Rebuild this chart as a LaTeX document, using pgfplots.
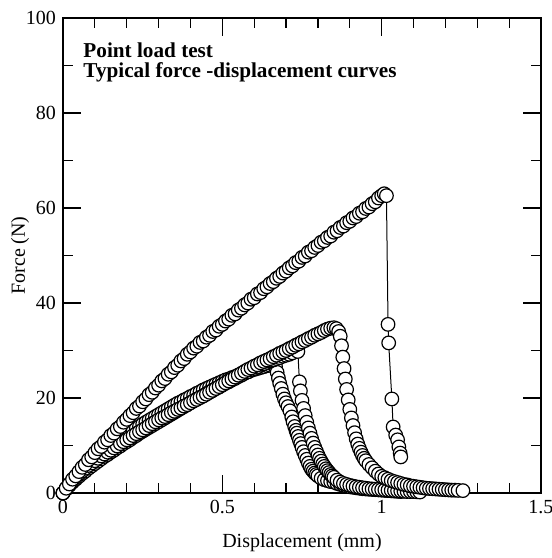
\documentclass[border=0pt]{standalone}
\usepackage{fontspec}
\setmainfont{Liberation Serif}
\usepackage{pgfplots}
\pgfplotsset{compat=1.18}

% specimen 1 (highest peak)
\pgfplotstableread{
x y
0.000 0.0
0.010 1.0
0.020 1.9
0.030 2.9
0.040 3.6
0.050 4.5
0.060 5.4
0.070 6.0
0.080 7.0
0.090 7.6
0.100 8.5
0.110 9.3
0.120 9.8
0.130 10.7
0.140 11.2
0.150 12.1
0.160 12.6
0.170 13.5
0.180 14.0
0.190 14.9
0.200 15.5
0.210 16.3
0.220 16.9
0.230 17.8
0.240 18.3
0.250 19.2
0.260 19.8
0.270 20.7
0.280 21.2
0.290 22.1
0.300 22.7
0.310 23.6
0.320 24.1
0.330 25.0
0.340 25.5
0.350 26.4
0.360 26.9
0.370 27.8
0.380 28.3
0.390 29.2
0.400 29.7
0.410 30.5
0.420 30.9
0.430 31.7
0.440 32.0
0.450 32.8
0.460 33.2
0.470 34.0
0.480 34.3
0.490 35.1
0.500 35.5
0.510 36.2
0.520 36.6
0.530 37.4
0.540 37.7
0.550 38.5
0.560 38.9
0.570 39.6
0.580 40.0
0.590 40.8
0.600 41.1
0.610 41.9
0.620 42.2
0.630 43.0
0.640 43.4
0.650 44.1
0.660 44.5
0.670 45.2
0.680 45.6
0.690 46.3
0.700 46.7
0.710 47.4
0.720 47.8
0.730 48.5
0.740 48.8
0.750 49.6
0.760 49.9
0.770 50.7
0.780 51.0
0.790 51.7
0.800 52.1
0.810 52.8
0.820 53.1
0.830 53.8
0.840 54.1
0.850 54.9
0.860 55.2
0.870 55.9
0.880 56.2
0.890 56.9
0.900 57.2
0.910 57.9
0.920 58.2
0.930 58.9
0.940 59.2
0.950 59.9
0.960 60.2
0.970 60.9
0.980 61.3
0.990 62.1
1.000 62.6
1.008 63.0
1.015 62.6
1.020 35.5
1.022 31.6
1.032 19.8
1.036 13.9
1.044 12.2
1.050 11.2
1.054 9.7
1.058 8.4
1.060 7.6
}\specA

% specimen 2
\pgfplotstableread{
x y
0.000 0.0
0.010 1.0
0.020 1.8
0.030 2.6
0.040 3.3
0.050 4.0
0.060 4.6
0.070 5.2
0.080 5.8
0.090 6.3
0.100 6.8
0.110 7.3
0.120 7.8
0.130 8.2
0.140 8.6
0.150 9.0
0.160 9.5
0.170 9.9
0.180 10.4
0.190 10.8
0.200 11.2
0.210 11.6
0.220 12.1
0.230 12.5
0.240 12.9
0.250 13.3
0.260 13.7
0.270 14.2
0.280 14.6
0.290 15.0
0.300 15.4
0.310 15.8
0.320 16.1
0.330 16.5
0.340 16.9
0.350 17.2
0.360 17.6
0.370 17.9
0.380 18.3
0.390 18.6
0.400 19.0
0.410 19.4
0.420 19.7
0.430 20.1
0.440 20.4
0.450 20.8
0.460 21.2
0.470 21.6
0.480 22.0
0.490 22.4
0.500 22.8
0.510 23.2
0.520 23.6
0.530 24.0
0.540 24.4
0.550 24.8
0.560 25.2
0.570 25.6
0.580 26.0
0.590 26.3
0.600 26.7
0.610 27.0
0.620 27.4
0.630 27.7
0.640 28.0
0.650 28.3
0.660 28.7
0.670 29.0
0.680 29.4
0.690 29.7
0.700 30.0
0.710 30.4
0.720 30.7
0.730 31.1
0.740 31.4
0.750 31.8
0.760 32.1
0.770 32.5
0.780 32.8
0.790 33.2
0.800 33.5
0.810 33.8
0.820 34.2
0.830 34.5
0.840 34.7
0.850 34.8
0.858 34.6
0.865 34.0
0.870 33.0
0.874 31.0
0.878 28.6
0.882 26.2
0.886 24.0
0.890 21.8
0.895 19.6
0.900 17.6
0.905 15.8
0.910 14.2
0.915 12.7
0.920 11.4
0.925 10.3
0.930 9.4
0.935 8.6
0.940 7.9
0.945 7.3
0.950 6.8
0.960 6.0
0.970 5.3
0.980 4.6
0.990 4.0
1.000 3.5
1.010 3.2
1.020 2.9
1.030 2.6
1.040 2.4
1.050 2.2
1.060 2.0
1.070 1.8
1.080 1.7
1.090 1.5
1.100 1.4
1.110 1.3
1.120 1.2
1.130 1.1
1.140 1.0
1.150 0.95
1.160 0.9
1.170 0.85
1.180 0.8
1.190 0.75
1.200 0.7
1.210 0.65
1.220 0.6
1.230 0.6
1.240 0.55
1.255 0.5
}\specB

% specimen 3
\pgfplotstableread{
x y
0.000 0.0
0.010 0.8
0.020 1.6
0.030 2.3
0.040 2.9
0.050 3.5
0.060 4.1
0.070 4.6
0.080 5.2
0.090 5.7
0.100 6.2
0.110 6.7
0.120 7.2
0.130 7.7
0.140 8.1
0.150 8.6
0.160 9.0
0.170 9.5
0.180 9.9
0.190 10.4
0.200 10.8
0.210 11.2
0.220 11.7
0.230 12.1
0.240 12.6
0.250 13.0
0.260 13.4
0.270 13.8
0.280 14.2
0.290 14.6
0.300 15.0
0.310 15.4
0.320 15.8
0.330 16.2
0.340 16.6
0.350 17.0
0.360 17.4
0.370 17.8
0.380 18.2
0.390 18.6
0.400 19.0
0.410 19.4
0.420 19.8
0.430 20.1
0.440 20.5
0.450 20.9
0.460 21.3
0.470 21.6
0.480 22.0
0.490 22.3
0.500 22.7
0.510 23.1
0.520 23.4
0.530 23.8
0.540 24.1
0.550 24.5
0.560 24.8
0.570 25.2
0.580 25.5
0.590 25.9
0.600 26.2
0.610 26.5
0.620 26.9
0.630 27.2
0.640 27.5
0.650 27.8
0.660 28.0
0.670 28.3
0.680 28.5
0.690 28.8
0.700 29.0
0.710 29.2
0.720 29.5
0.737 29.8
0.742 23.4
0.745 21.5
0.750 19.5
0.755 17.8
0.760 16.3
0.765 14.9
0.770 13.7
0.775 12.6
0.780 11.5
0.785 10.5
0.790 9.6
0.795 8.8
0.800 8.0
0.805 7.3
0.810 6.7
0.815 6.1
0.820 5.6
0.825 5.1
0.830 4.7
0.835 4.3
0.840 3.9
0.845 3.6
0.850 3.3
0.860 2.7
0.870 2.3
0.880 2.0
0.890 1.8
0.900 1.6
0.910 1.45
0.920 1.3
0.930 1.2
0.940 1.1
0.950 1.0
0.960 0.9
0.970 0.85
0.980 0.8
0.990 0.75
1.000 0.7
1.010 0.65
1.020 0.6
1.030 0.55
1.040 0.5
1.050 0.45
1.060 0.4
1.070 0.35
1.080 0.3
1.090 0.3
1.100 0.3
1.110 0.25
1.120 0.2
}\specC

% specimen 4
\pgfplotstableread{
x y
0.000 0.0
0.010 0.9
0.020 1.7
0.030 2.5
0.040 3.2
0.050 3.8
0.060 4.5
0.070 5.1
0.080 5.8
0.090 6.4
0.100 7.0
0.110 7.6
0.120 8.2
0.130 8.7
0.140 9.3
0.150 9.8
0.160 10.3
0.170 10.8
0.180 11.3
0.190 11.7
0.200 12.2
0.210 12.7
0.220 13.1
0.230 13.6
0.240 14.0
0.250 14.5
0.260 14.9
0.270 15.3
0.280 15.7
0.290 16.1
0.300 16.5
0.310 16.9
0.320 17.3
0.330 17.7
0.340 18.1
0.350 18.5
0.360 18.9
0.370 19.2
0.380 19.6
0.390 19.9
0.400 20.3
0.410 20.6
0.420 21.0
0.430 21.3
0.440 21.7
0.450 22.0
0.460 22.3
0.470 22.6
0.480 22.9
0.490 23.2
0.500 23.5
0.510 23.8
0.520 24.0
0.530 24.3
0.540 24.5
0.550 24.8
0.560 25.0
0.570 25.3
0.580 25.5
0.590 25.8
0.600 26.0
0.610 26.2
0.620 26.4
0.630 26.6
0.640 26.8
0.650 26.9
0.660 27.0
0.667 26.6
0.672 25.4
0.676 24.2
0.680 23.1
0.685 22.0
0.690 20.8
0.695 19.8
0.700 19.0
0.706 18.2
0.712 17.3
0.718 16.0
0.722 15.0
0.727 14.0
0.731 13.2
0.734 12.6
0.738 11.9
0.742 11.1
0.746 10.4
0.750 9.6
0.755 8.7
0.760 7.9
0.765 7.1
0.770 6.3
0.775 5.6
0.780 5.0
0.785 4.6
0.790 4.2
0.795 3.9
0.800 3.6
0.810 3.1
0.820 2.8
0.830 2.6
0.840 2.4
0.850 2.3
0.860 2.0
0.870 1.8
0.880 1.6
0.890 1.45
0.900 1.3
0.910 1.2
0.920 1.1
0.930 1.0
0.940 0.9
0.950 0.85
0.960 0.8
0.970 0.75
0.980 0.7
0.990 0.65
1.000 0.6
1.010 0.55
1.020 0.5
1.030 0.45
1.040 0.4
1.050 0.35
1.060 0.3
}\specD

\pgfplotsset{spec/.style={
    black, line width=0.5pt,
    mark=*, mark size=3.4pt,
    mark options={fill=white, draw=black, line width=0.6pt}}}

\begin{document}
\begin{tikzpicture}
\path[use as bounding box] (-31.5pt,-32.5pt) rectangle (244.5pt,246.5pt);
\begin{axis}[
    scale only axis,
    width=239pt, height=237.5pt,
    xmin=0, xmax=1.5, ymin=0, ymax=100,
    xtick={0,0.5,1,1.5},
    xticklabels={0,0.5,1,1.5},
    ytick={0,20,40,60,80,100},
    minor x tick num=4,
    minor y tick num=1,
    major tick length=9pt,
    minor tick length=5pt,
    tick align=inside,
    tick style={black, line width=0.6pt},
    axis line style={line width=0.8pt},
    tick label style={font=\fontsize{10}{12}\selectfont},
    /pgf/number format/assume math mode=true,
    xlabel={Displacement (mm)},
    ylabel={Force (N)},
    label style={font=\fontsize{10}{12}\selectfont},
    xlabel style={at={(axis description cs:0.5,-0.105)}, anchor=center},
    ylabel style={at={(axis description cs:-0.09,0.5)}, anchor=center},
    clip=false,
]
\addplot[spec] table[x=x, y=y] {\specD};
\addplot[spec] table[x=x, y=y] {\specC};
\addplot[spec] table[x=x, y=y] {\specB};
\addplot[spec] table[x=x, y=y] {\specA};
\node[anchor=north west, inner sep=0pt, align=left,
      font=\fontsize{10.6}{10}\selectfont\bfseries]
  at (rel axis cs:0.042,0.948)
  {Point load test\\Typical force -displacement curves};
\end{axis}
\end{tikzpicture}
\end{document}
